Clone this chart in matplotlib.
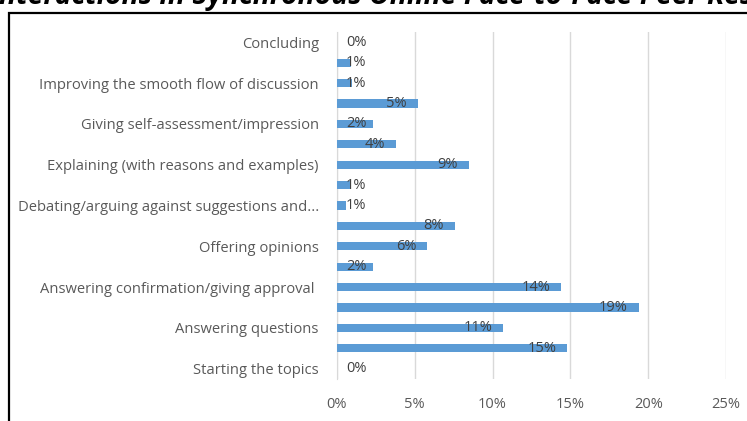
import numpy as np
import matplotlib.pyplot as plt
from matplotlib.patches import Rectangle

# bars listed top to bottom, only every other row carries a label
labels = ['Concluding', '', 'Improving the smooth flow of discussion', '',
          'Giving self-assessment/impression', '', 'Explaining (with reasons and examples)', '',
          'Debating/arguing against suggestions and...', '', 'Offering opinions', '',
          'Answering confirmation/giving approval ', '', 'Answering questions', '',
          'Starting the topics']
values = [0.0, 0.9, 1.0, 5.2, 2.3, 3.8, 8.5, 0.9, 0.6, 7.6, 5.8, 2.3, 14.4, 19.4, 10.7, 14.8, 0.0]
value_text = ['0%', '1%', '1%', '5%', '2%', '4%', '9%', '1%', '1%', '8%', '6%', '2%',
              '14%', '19%', '11%', '15%', '0%']
xticks = [0, 5, 10, 15, 20, 25]

plt.rcParams['font.family'] = ['Open Sans', 'DejaVu Sans']

fig = plt.figure(figsize=(7.47, 4.21), dpi=100)
ax = fig.add_axes([0.451, 0.0998, 0.521, 0.8242])

y = np.arange(len(values))
ax.barh(y, values, height=0.4, color='#5B9BD5', zorder=3)
ax.set_ylim(len(values) - 0.5, -0.5)
ax.set_xlim(0, 25)
ax.set_yticks(y)
ax.set_yticklabels(labels, fontsize=10.6, color='#595959')
ax.set_xticks(xticks)
ax.set_xticklabels([f'{t}%' for t in xticks], fontsize=10.5, color='#595959')
ax.tick_params(length=0, axis='both')
ax.tick_params(axis='y', pad=13)
ax.tick_params(axis='x', pad=13)
ax.grid(axis='x', color='#D9D9D9', linewidth=1, zorder=0)
for s in ['top', 'right', 'bottom']:
    ax.spines[s].set_visible(False)
ax.spines['left'].set_color('#D9D9D9')

# labels sit just inside the bar end, or near the axis for short bars
for yi, v, t in zip(y, values, value_text):
    if v < 2.9:
        ax.annotate(t, (0, yi), xytext=(9, 0), textcoords='offset pixels',
                    ha='left', va='center', fontsize=10.5, color='#404040', zorder=4)
    else:
        ax.annotate(t, (v, yi), xytext=(-11, 0), textcoords='offset pixels',
                    ha='right', va='center', fontsize=10.5, color='#404040', zorder=4)

# outer frame and the cut-off title from the source image
fig.patches.append(Rectangle((9 / 747, -0.1), 1.2, 1.1 - 13 / 421, transform=fig.transFigure,
                             fill=False, edgecolor='black', linewidth=1.6))
fig.text(-0.002, 1 - 4 / 421, 'nteractions in Synchronous Online Face-to-Face Peer Res',
         fontsize=20.3, fontweight='bold', fontstyle='italic', va='baseline', ha='left')

fig.savefig('out.png', dpi=100)
